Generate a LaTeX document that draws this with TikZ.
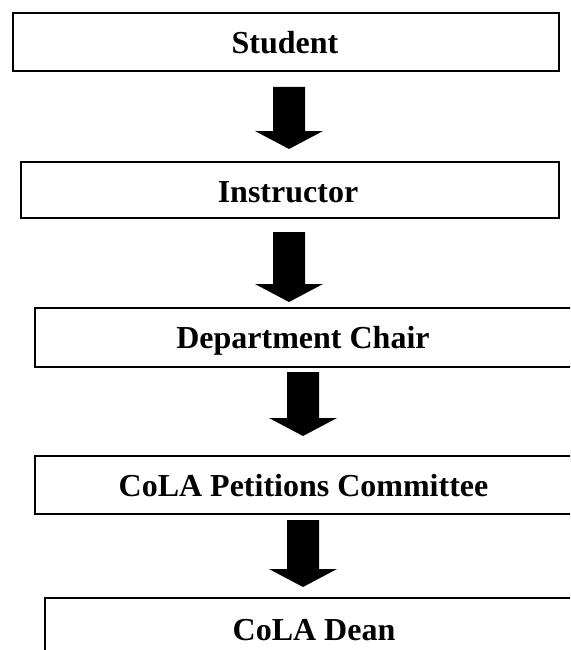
\documentclass[tikz,border=0pt]{standalone}
\usepackage{fontspec}
\setmainfont{Liberation Serif}
\tikzset{
  box/.style={draw=black, line width=1.7pt, rectangle, inner sep=0pt},
  lbl/.style={font=\fontsize{32}{32}\selectfont\bfseries, anchor=base, inner sep=0pt},
  blockarrow/.style={fill=black, to path={
    ([xshift=-16pt]\tikztostart) -- ([xshift=16pt]\tikztostart)
    -- ([xshift=16pt,yshift=18pt]\tikztotarget) -- ([xshift=34pt,yshift=18pt]\tikztotarget)
    -- (\tikztotarget) -- ([xshift=-34pt,yshift=18pt]\tikztotarget)
    -- ([xshift=-16pt,yshift=18pt]\tikztotarget) -- cycle}}
}
\begin{document}
\begin{tikzpicture}[x=1pt,y=1pt]
\useasboundingbox (0,0) rectangle (570,-650);
\clip (0,0) rectangle (570,-650);
% boxes
\node[box, minimum width=546pt, minimum height=58pt] (b1) at (286,-42) {};
\node[box, minimum width=538pt, minimum height=56pt] (b2) at (290,-190) {};
\node[box, minimum width=580pt, minimum height=59pt] (b3) at (325,-337.5) {};
\node[box, minimum width=580pt, minimum height=58pt] (b4) at (325,-485) {};
\node[box, minimum width=580pt, minimum height=100pt] (b5) at (335,-648) {};
% labels
\node[lbl] (t1) at (285,-54) {Student};
\node[lbl] (t2) at (288,-202.5) {Instructor};
\node[lbl] (t3) at (303,-348) {Department Chair};
\node[lbl] (t4) at (303.5,-496.5) {CoLA Petitions Committee};
\node[lbl] (t5) at (314,-640) {CoLA Dean};
% arrows
\coordinate (a1s) at (289,-87);  \coordinate (a1e) at (289,-149);
\coordinate (a2s) at (289,-232); \coordinate (a2e) at (289,-302);
\coordinate (a3s) at (303,-372); \coordinate (a3e) at (303,-436);
\coordinate (a4s) at (303,-520); \coordinate (a4e) at (303,-587);
\fill (a1s) to[blockarrow] (a1e);
\fill (a2s) to[blockarrow] (a2e);
\fill (a3s) to[blockarrow] (a3e);
\fill (a4s) to[blockarrow] (a4e);
\end{tikzpicture}
\end{document}
